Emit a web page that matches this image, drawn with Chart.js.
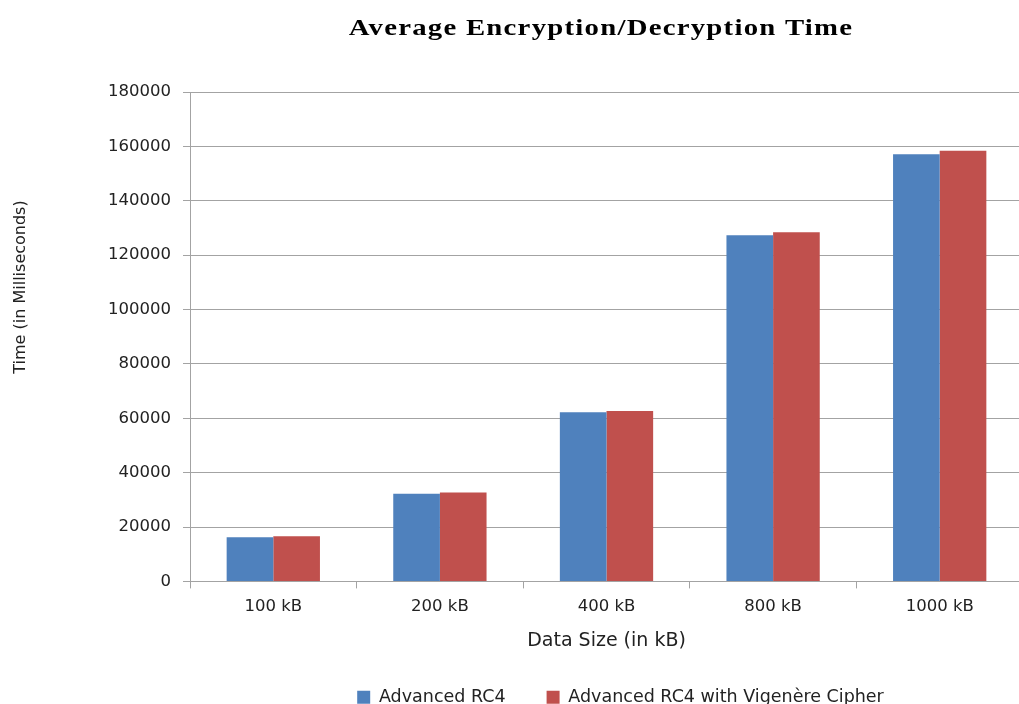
<!DOCTYPE html>
<html>
<head>
<meta charset="utf-8">
<script src="https://cdn.jsdelivr.net/npm/chart.js@4.4.1/dist/chart.umd.min.js"></script>
<style>
  html, body { margin: 0; padding: 0; background: #fff; overflow: hidden; }
  #c { display: block; }
</style>
</head>
<body>
<canvas id="c" width="1030" height="716"></canvas>
<script>
// Chart text
const chartTitle = 'Average Encryption/Decryption Time';
const xAxisTitle = 'Data Size (in kB)';
const yAxisTitle = 'Time (in Milliseconds)';

// Categories and series (time in milliseconds)
const categories = ['100 kB', '200 kB', '400 kB', '800 kB', '1000 kB'];
const seriesNames = ['Advanced RC4', 'Advanced RC4 with Vigenère Cipher'];
const rc4Times = [16200, 32200, 62200, 127300, 157100];
const rc4VigenereTimes = [16600, 32700, 62700, 128400, 158400];

// Value axis ticks
const yTickValues = [0, 20000, 40000, 60000, 80000, 100000, 120000, 140000, 160000, 180000];

const textColor = '#222222';
const lineColor = '#a3a3a3';
const sansFamily = "'DejaVu Sans', 'Liberation Sans', sans-serif";

// Draws the wide serif chart heading and the rotated value-axis title
const headingPlugin = {
  id: 'headings',
  beforeDraw(chart) {
    // nudge the legend row a little to the right of the plot centre
    const lg = chart.legend;
    if (lg && !lg._shifted) { lg.left += 14; lg.right += 14; lg._shifted = true; }
  },
  afterDraw(chart) {
    const ctx = chart.ctx;
    ctx.save();
    ctx.fillStyle = '#000';
    ctx.font = "bold 23px 'Liberation Serif', 'Times New Roman', serif";
    if ('letterSpacing' in ctx) ctx.letterSpacing = '1px';
    ctx.textAlign = 'center';
    ctx.textBaseline = 'alphabetic';
    ctx.translate(601, 35);
    ctx.scale(1.25, 1);
    ctx.fillText(chartTitle, 0, 0);
    ctx.restore();

    ctx.save();
    ctx.fillStyle = textColor;
    ctx.font = '16px ' + sansFamily;
    ctx.textAlign = 'center';
    ctx.textBaseline = 'middle';
    ctx.translate(21, 287);
    ctx.rotate(-Math.PI / 2);
    ctx.fillText(yAxisTitle, 0, 0);
    ctx.restore();
  }
};

new Chart(document.getElementById('c'), {
  type: 'bar',
  data: {
    labels: categories,
    datasets: [
      { label: seriesNames[0], data: rc4Times, backgroundColor: '#4f81bd', borderWidth: 0 },
      { label: seriesNames[1], data: rc4VigenereTimes, backgroundColor: '#c0504d', borderWidth: 0 }
    ]
  },
  options: {
    responsive: false,
    animation: false,
    devicePixelRatio: 1,
    layout: { padding: { top: 92, right: 7, left: 0, bottom: 0 } },
    datasets: { bar: { categoryPercentage: 0.56, barPercentage: 1.0 } },
    plugins: {
      title: { display: false },
      tooltip: { enabled: false },
      legend: {
        position: 'bottom',
        fullSize: false,
        labels: {
          boxWidth: 13,
          boxHeight: 13,
          padding: 41,
          color: textColor,
          font: { family: sansFamily, size: 17.5 }
        }
      }
    },
    scales: {
      x: {
        grid: { display: true, drawOnChartArea: false, drawTicks: true, tickLength: 7, color: lineColor, offset: true },
        border: { color: lineColor },
        ticks: { padding: 8, color: textColor, font: { family: sansFamily, size: 16.5 } },
        title: {
          display: true,
          text: xAxisTitle,
          color: textColor,
          font: { family: sansFamily, size: 19, lineHeight: 0.7 },
          padding: { top: 10, bottom: 0 }
        }
      },
      y: {
        min: 0,
        max: 180000,
        afterFit(scale) { scale.width = 190; },
        afterBuildTicks(scale) { scale.ticks = yTickValues.map(v => ({ value: v })); },
        grid: { color: lineColor, tickLength: 7, lineWidth: 1 },
        border: { color: lineColor },
        ticks: {
          padding: 12,
          color: textColor,
          font: { family: sansFamily, size: 16.5 },
          callback: v => String(v)
        }
      }
    }
  },
  plugins: [headingPlugin]
});
</script>
</body>
</html>
